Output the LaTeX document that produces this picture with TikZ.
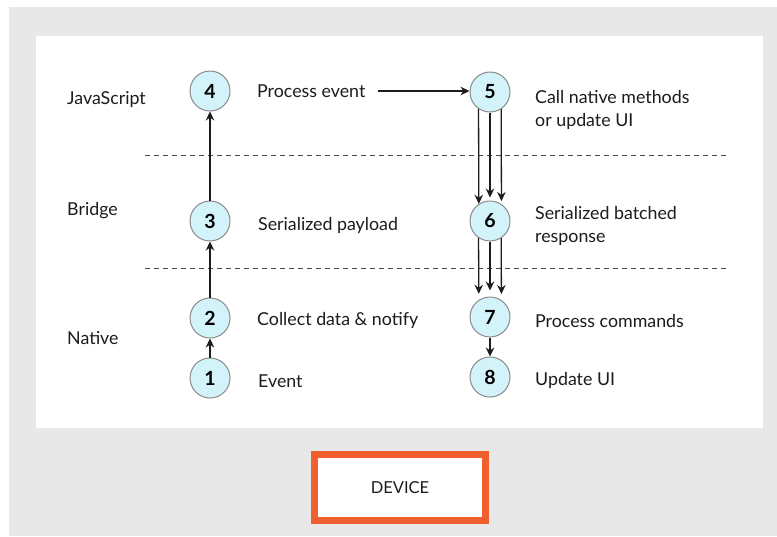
\documentclass[tikz,border=0pt]{standalone}
\usepackage{fontspec}
\setmainfont{Lato}
\usetikzlibrary{arrows.meta}
\definecolor{bggray}{HTML}{E8E8E8}
\definecolor{cfill}{HTML}{D3F3FB}
\definecolor{cline}{HTML}{8A8A8A}
\definecolor{txt}{HTML}{1C1C1C}
\definecolor{orng}{HTML}{F25F2F}
\begin{document}
\begin{tikzpicture}[x=1pt,y=-1pt,
  stepcirc/.style={circle,draw=cline,line width=1pt,fill=cfill,minimum size=40pt,inner sep=0pt,font=\fontsize{19.5}{22}\selectfont\bfseries,text=black},
  lbl/.style={anchor=west,inner sep=0pt,font=\fontsize{17.8}{22.5}\selectfont,text=txt,align=left},
  lane/.style={anchor=west,inner sep=0pt,font=\fontsize{17.8}{22}\selectfont,text=txt},
  arr/.style={draw=txt,line width=1.3pt,-{Stealth[length=9pt,width=8.5pt]}},
  sep/.style={draw=txt!80,line width=0.9pt,dash pattern=on 5pt off 4pt}]
\useasboundingbox (0,0) rectangle (777,536);
\fill[white] (0,0) rectangle (777,536);
\fill[bggray] (9,7) rectangle (777,536);
\fill[white] (36,36) rectangle (763,428);
% separators
\coordinate (s1a) at (145,155); \coordinate (s1b) at (727,155);
\coordinate (s2a) at (145,268); \coordinate (s2b) at (727,268);
\draw[sep] (s1a) -- (s1b);
\draw[sep] (s2a) -- (s2b);
% lane labels
\node[lane] (ljs) at (67,100) {JavaScript};
\node[lane] (lbr) at (67,211) {Bridge};
\node[lane] (lna) at (67,338) {Native};
% circles
\node[stepcirc] (c4) at (210,91) {4};
\node[stepcirc] (c3) at (210,221) {3};
\node[stepcirc] (c2) at (210,318) {2};
\node[stepcirc] (c1) at (210,378) {1};
\node[stepcirc] (c5) at (490,92) {5};
\node[stepcirc] (c6) at (490,221) {6};
\node[stepcirc] (c7) at (490,317) {7};
\node[stepcirc] (c8) at (490,377) {8};
% texts
\node[lbl] (t4) at (257,91) {Process event};
\node[lbl] (t3) at (258,225) {Serialized payload};
\node[lbl] (t2) at (257,320) {Collect data \& notify};
\node[lbl] (t1) at (258,381) {Event};
\node[lbl] (t5) at (535,110) {Call native methods\\or update UI};
\node[lbl] (t6) at (535,226) {Serialized batched\\response};
\node[lbl] (t7) at (535,321) {Process commands};
\node[lbl] (t8) at (535,380) {Update UI};
% arrows
\draw[arr] (c1) -- (c2);
\draw[arr] (c2) -- (c3);
\draw[arr] (c3) -- (c4);
\draw[arr, shorten <=12pt] (t4.east) -- (t4.east -| c5.west);
\draw[arr] (c5.236.6) -- (c6.123.4);
\draw[arr, shorten >=3pt] (c5.south) -- (c6.north);
\draw[arr, shorten >=3pt] (c5.303.4) -- (c6.56.6);
\draw[arr, shorten >=6pt] (c6.236.6) -- (c7.123.4);
\draw[arr, shorten >=6pt] (c6.south) -- (c7.north);
\draw[arr, shorten >=6pt] (c6.303.4) -- (c7.56.6);
\draw[arr] (c7) -- (c8);
% device
\node[draw=orng,line width=7pt,fill=white,minimum width=171pt,minimum height=66pt,inner sep=0pt,font=\fontsize{16.5}{18}\selectfont,text=txt] (dev) at (400,487.5) {DEVICE};
\end{tikzpicture}
\end{document}
